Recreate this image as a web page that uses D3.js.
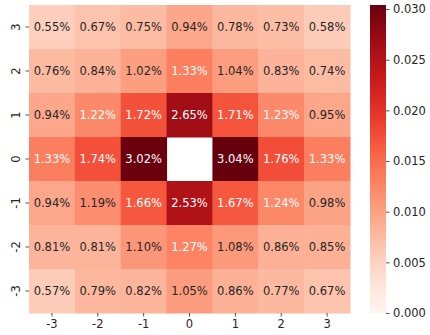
<!DOCTYPE html>
<html>
<head>
<meta charset="utf-8">
<script src="https://cdn.jsdelivr.net/npm/d3@7"></script>
<style>
  html, body { margin: 0; padding: 0; background: #fff; }
  svg { display: block; }
  text { font-family: "DejaVu Sans", sans-serif; }
</style>
</head>
<body>
<svg id="chart" width="430" height="335"></svg>
<script>
// Grid labels
const xLabels = ["-3", "-2", "-1", "0", "1", "2", "3"];
const yLabels = ["3", "2", "1", "0", "-1", "-2", "-3"];   // top to bottom

// Cell values in percent, one array per row (top row first); centre is empty
const row3  = [0.55, 0.67, 0.75, 0.94, 0.78, 0.73, 0.58];
const row2  = [0.76, 0.84, 1.02, 1.33, 1.04, 0.83, 0.74];
const row1  = [0.94, 1.22, 1.72, 2.65, 1.71, 1.23, 0.95];
const row0  = [1.33, 1.74, 3.02, null, 3.04, 1.76, 1.33];
const rowM1 = [0.94, 1.19, 1.66, 2.53, 1.67, 1.24, 0.98];
const rowM2 = [0.81, 0.81, 1.10, 1.27, 1.08, 0.86, 0.85];
const rowM3 = [0.57, 0.79, 0.82, 1.05, 0.86, 0.77, 0.67];
const rows = [row3, row2, row1, row0, rowM1, rowM2, rowM3];

// Colour bar ticks
const cbarTicks = [0.000, 0.005, 0.010, 0.015, 0.020, 0.025, 0.030];

const svg = d3.select("#chart");
const textColor = "#262626";
const fontSize = 11.5;

const plot = { left: 29, top: 5, right: 350, bottom: 313 };

const x = d3.scaleBand().domain(xLabels).range([plot.left, plot.right]).padding(0);
const y = d3.scaleBand().domain(yLabels).range([plot.top, plot.bottom]).padding(0);

const flat = rows.flat().filter(v => v !== null).map(v => v / 100);
const vmin = 0, vmax = d3.max(flat);
const color = d3.scaleSequential(d3.interpolateReds).domain([vmin, vmax]);

function luminance(c) {
  const rgb = d3.rgb(c);
  const lin = [rgb.r, rgb.g, rgb.b].map(v => {
    v /= 255;
    return v <= 0.03928 ? v / 12.92 : Math.pow((v + 0.055) / 1.055, 2.4);
  });
  return 0.2126 * lin[0] + 0.7152 * lin[1] + 0.0722 * lin[2];
}

const cells = [];
rows.forEach((r, i) => r.forEach((v, j) => cells.push({ row: yLabels[i], col: xLabels[j], v })));

const g = svg.append("g");
g.selectAll("rect.cell")
  .data(cells.filter(d => d.v !== null))
  .join("rect")
  .attr("class", "cell")
  .attr("x", d => x(d.col))
  .attr("y", d => y(d.row))
  .attr("width", x.bandwidth() + 0.5)
  .attr("height", y.bandwidth() + 0.5)
  .attr("fill", d => color(d.v / 100));

g.selectAll("text.annot")
  .data(cells.filter(d => d.v !== null))
  .join("text")
  .attr("class", "annot")
  .attr("x", d => x(d.col) + x.bandwidth() / 2)
  .attr("y", d => y(d.row) + y.bandwidth() / 2)
  .attr("text-anchor", "middle")
  .attr("dominant-baseline", "central")
  .attr("font-size", fontSize)
  .attr("fill", d => luminance(color(d.v / 100)) > 0.408 ? textColor : "#ffffff")
  .text(d => d.v.toFixed(2) + "%");

// X axis
const xAxis = svg.append("g")
  .attr("transform", `translate(0,${plot.bottom})`)
  .call(d3.axisBottom(x).tickSize(3.5).tickPadding(3.5));
xAxis.select(".domain").remove();
xAxis.selectAll("line").attr("stroke", textColor).attr("stroke-width", 0.8);
xAxis.selectAll("text").attr("font-size", fontSize).attr("fill", textColor)
  .attr("font-family", "DejaVu Sans, sans-serif");

// Y axis with vertical labels
const yAxis = svg.append("g")
  .attr("transform", `translate(${plot.left},0)`)
  .call(d3.axisLeft(y).tickSize(3.5).tickPadding(3.5));
yAxis.select(".domain").remove();
yAxis.selectAll("line").attr("stroke", textColor).attr("stroke-width", 0.8);
yAxis.selectAll("text")
  .attr("font-size", fontSize).attr("fill", textColor)
  .attr("font-family", "DejaVu Sans, sans-serif")
  .attr("x", null).attr("dy", null)
  .attr("text-anchor", "middle")
  .attr("dominant-baseline", "central")
  .attr("transform", "translate(-13,0) rotate(-90)");

// Colour bar
const cb = { x: 370, w: 16, top: plot.top, bottom: plot.bottom };
const cy = d3.scaleLinear().domain([vmin, vmax]).range([cb.bottom, cb.top]);
const defs = svg.append("defs");
const grad = defs.append("linearGradient").attr("id", "cbgrad")
  .attr("x1", 0).attr("y1", 1).attr("x2", 0).attr("y2", 0);
d3.range(0, 1.0001, 0.05).forEach(t => {
  grad.append("stop").attr("offset", t).attr("stop-color", d3.interpolateReds(t));
});
svg.append("rect")
  .attr("x", cb.x).attr("y", cb.top)
  .attr("width", cb.w).attr("height", cb.bottom - cb.top)
  .attr("fill", "url(#cbgrad)");

const cAxis = svg.append("g")
  .attr("transform", `translate(${cb.x + cb.w},0)`)
  .call(d3.axisRight(cy).tickValues(cbarTicks).tickFormat(d3.format(".3f")).tickSize(3.5).tickPadding(3.5));
cAxis.select(".domain").remove();
cAxis.selectAll("line").attr("stroke", textColor).attr("stroke-width", 0.8);
cAxis.selectAll("text").attr("font-size", fontSize).attr("fill", textColor)
  .attr("font-family", "DejaVu Sans, sans-serif");
</script>
</body>
</html>
